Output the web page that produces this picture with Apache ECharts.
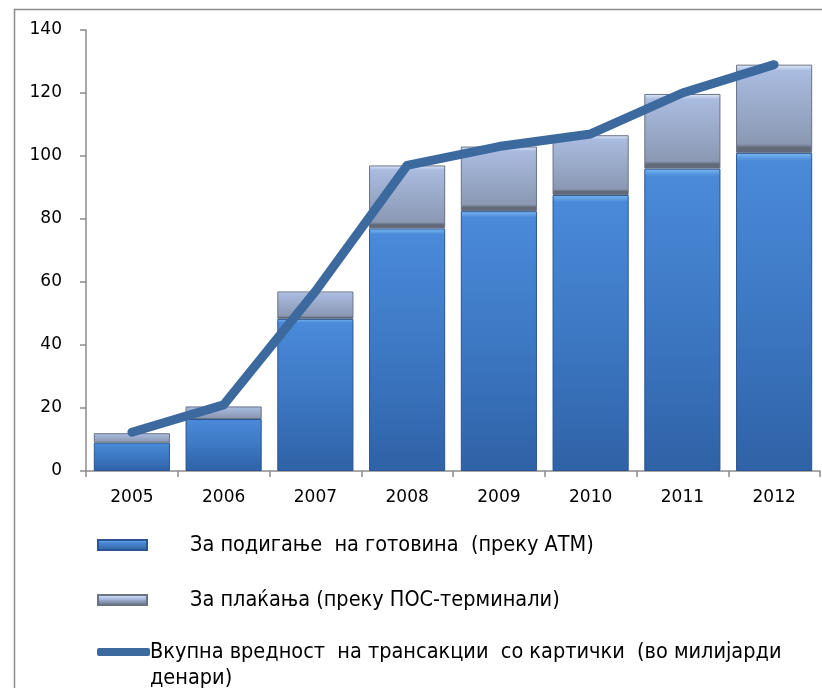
<!DOCTYPE html>
<html><head><meta charset="utf-8">
<script src="https://cdn.jsdelivr.net/npm/echarts@6/dist/echarts.min.js"></script>
<style>html,body{margin:0;padding:0;background:#fff}#c{width:822px;height:688px}</style>
</head><body><div id="c"></div>
<script>
const years = ['2005','2006','2007','2008','2009','2010','2011','2012'];
const atm = [9, 16.5, 48.3, 77, 82.5, 87.6, 96, 101];
const pos = [3, 4, 8.7, 20, 20.5, 19, 23.7, 28];
const total = [12.3, 21, 57, 97, 103, 107, 120, 129];
const yTicks = [0, 20, 40, 60, 80, 100, 120, 140];
const names = ['За подигање  на готовина  (преку АТМ)', 'За плаќања (преку ПОС-терминали)', 'Вкупна вредност  на трансакции  со картички  (во милијарди денари)'];
const lineNameRows = ['Вкупна вредност  на трансакции  со картички  (во милијарди', 'денари)'];

const G = echarts.graphic.LinearGradient;
const atmColor = new G(0,0,0,1,[{offset:0,color:'#7ab8f2'},{offset:0.025,color:'#4a8ad8'},{offset:0.5,color:'#3d78c4'},{offset:1,color:'#2f62a6'}]);
const posColor = new G(0,0,0,1,[{offset:0,color:'#e0ebfb'},{offset:0.07,color:'#a9bbe0'},{offset:0.9,color:'#8a98b2'},{offset:0.94,color:'#626a7a'},{offset:1,color:'#626a7a'}]);
const atmLegend = new G(0,0,0,1,[{offset:0,color:'#8cc4f6'},{offset:0.3,color:'#4a8ad8'},{offset:1,color:'#2f5e9c'}]);
const posLegend = new G(0,0,0,1,[{offset:0,color:'#e4eefc'},{offset:0.4,color:'#a9bbe0'},{offset:1,color:'#5e6676'}]);

const chart = echarts.init(document.getElementById('c'), null, {renderer:'canvas'});
const font = 'DejaVu Sans';
const lfont = 'DejaVu Sans Condensed';
const lsize = 21.5;
chart.setOption({
  animation:false,
  graphic:[
    {type:'rect',shape:{x:14.5,y:9.5,width:900,height:900},style:{fill:'none',stroke:'#8c8c8c',lineWidth:1.5},z:-1},
    {type:'text',left:150,top:667,style:{text:lineNameRows[1],fontFamily:lfont,fontSize:lsize,fill:'#000'}}
  ],
  grid:{left:86,right:2,top:30,bottom:217},
  xAxis:{type:'category',data:years,
    axisLine:{lineStyle:{color:'#8c8c8c',width:1.5}},
    axisTick:{show:true,alignWithLabel:false,length:6,lineStyle:{color:'#8c8c8c',width:1.5}},
    axisLabel:{color:'#000',fontFamily:font,fontSize:17,margin:18}},
  yAxis:{type:'value',min:0,max:140,interval:20,
    axisLine:{show:true,lineStyle:{color:'#8c8c8c',width:1.5}},
    axisTick:{show:true,length:6,lineStyle:{color:'#8c8c8c',width:1.5}},
    splitLine:{show:false},
    axisLabel:{color:'#000',fontFamily:font,fontSize:17,margin:24,
      formatter:v=>yTicks.includes(v)?String(v):''}},
  legend:[
    {data:[{name:names[0],itemStyle:{color:atmLegend}}],left:97,top:534,padding:0,itemWidth:49,itemHeight:10,icon:'rect',
     textStyle:{fontFamily:lfont,fontSize:lsize,color:'#000',padding:[0,0,0,38]}},
    {data:[{name:names[1],itemStyle:{color:posLegend}}],left:97,top:589,padding:0,itemWidth:49,itemHeight:10,icon:'rect',
     textStyle:{fontFamily:lfont,fontSize:lsize,color:'#000',padding:[0,0,0,38]}},
    {data:[{name:names[2],itemStyle:{color:'#3d6a9e'}}],left:97,top:641,padding:0,itemWidth:53,itemHeight:8,icon:'roundRect',
     formatter:()=>lineNameRows[0],
     textStyle:{fontFamily:lfont,fontSize:lsize,color:'#000',padding:[0,0,0,-5]}}
  ],
  series:[
    {name:names[0],type:'bar',stack:'s',data:atm,barCategoryGap:'17%',
     itemStyle:{color:atmColor,borderColor:'#2a5590',borderWidth:1}},
    {name:names[1],type:'bar',stack:'s',data:pos,
     itemStyle:{color:posColor,borderColor:'#6a7384',borderWidth:1}},
    {name:names[2],type:'line',data:total,symbol:'none',z:5,
     lineStyle:{color:'#3d6a9e',width:9,cap:'round',join:'round'},itemStyle:{color:'#3d6a9e'}}
  ]
});
</script></body></html>
